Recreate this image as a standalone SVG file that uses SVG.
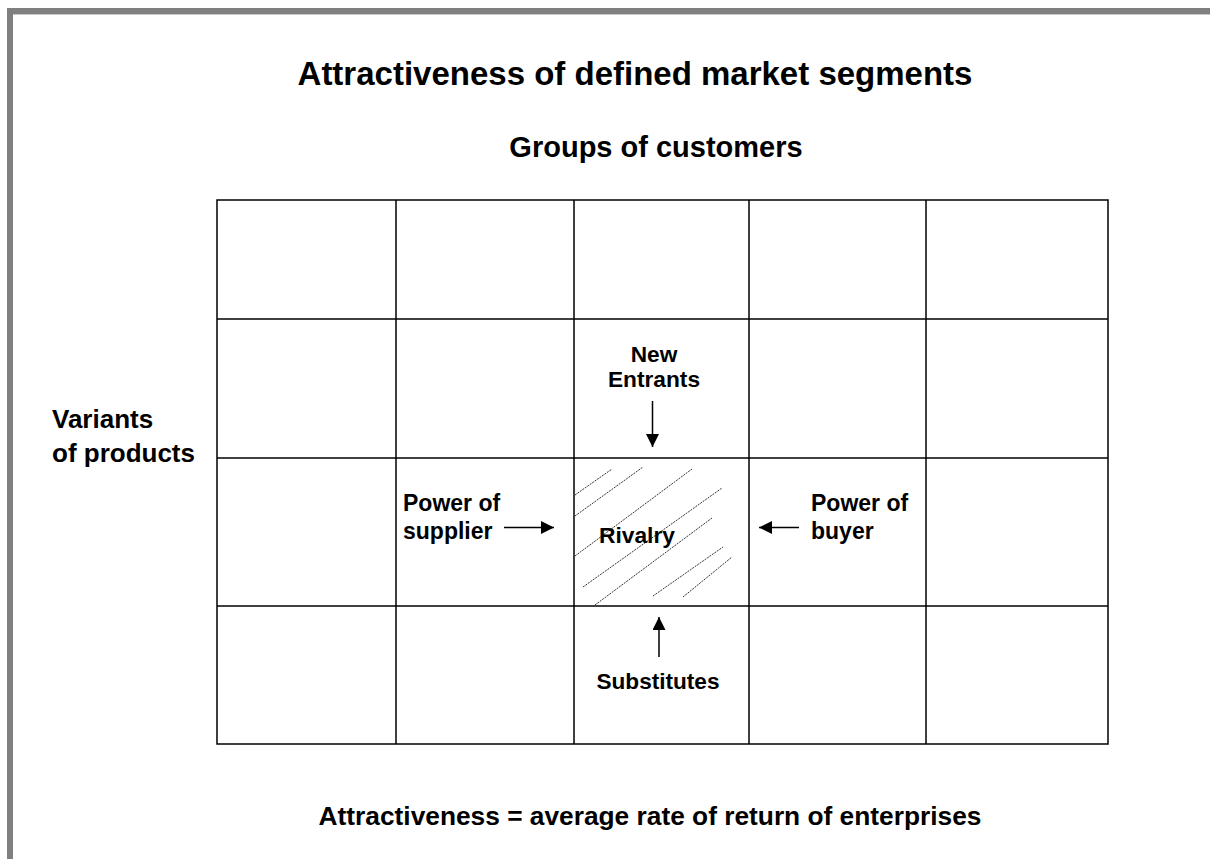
<svg xmlns="http://www.w3.org/2000/svg" width="1210" height="859" viewBox="0 0 1210 859">
<defs>
<style>
.t{font-family:"Liberation Sans",Arial,sans-serif;font-weight:bold;fill:#000}
.g{stroke:#000;stroke-width:1.5;fill:none}
.h{stroke:#333;stroke-width:1;stroke-dasharray:2,1;fill:none}
.a{stroke:#000;stroke-width:1.5;fill:none}
</style>
<marker id="ah" viewBox="0 0 10 10" refX="10" refY="5" markerWidth="13" markerHeight="13" markerUnits="userSpaceOnUse" orient="auto">
<path d="M0,0 L10,5 L0,10 z" fill="#000"/>
</marker>
</defs>
<rect x="0" y="0" width="1210" height="859" fill="#fff"/>
<g id="frame">
<rect x="7" y="8" width="1203" height="6" fill="#808080"/>
<rect x="13" y="14" width="1197" height="1" fill="#c8c8c8"/>
<rect x="7" y="8" width="6" height="851" fill="#808080"/>
</g>
<g id="titles">
<text class="t" x="635" y="85" font-size="33" text-anchor="middle">Attractiveness of defined market segments</text>
<text class="t" x="656" y="157" font-size="29" text-anchor="middle">Groups of customers</text>
<text class="t" x="52" y="428" font-size="26">Variants</text>
<text class="t" x="52" y="462" font-size="26">of products</text>
<text class="t" x="650" y="825" font-size="26.3" text-anchor="middle">Attractiveness = average rate of return of enterprises</text>
</g>
<g id="grid">
<rect class="g" x="217" y="200" width="891" height="544"/>
<line class="g" x1="396" y1="200" x2="396" y2="744"/>
<line class="g" x1="574" y1="200" x2="574" y2="744"/>
<line class="g" x1="749" y1="200" x2="749" y2="744"/>
<line class="g" x1="926" y1="200" x2="926" y2="744"/>
<line class="g" x1="217" y1="319" x2="1108" y2="319"/>
<line class="g" x1="217" y1="458" x2="1108" y2="458"/>
<line class="g" x1="217" y1="606" x2="1108" y2="606"/>
</g>
<g id="rivalry">
<g id="hatch">
<line class="h" x1="575" y1="495" x2="612" y2="469"/>
<line class="h" x1="575" y1="516" x2="643" y2="467"/>
<line class="h" x1="575" y1="556" x2="692" y2="469"/>
<line class="h" x1="583" y1="587" x2="722" y2="488"/>
<line class="h" x1="595" y1="605" x2="712" y2="518"/>
<line class="h" x1="653" y1="596" x2="723" y2="547"/>
<line class="h" x1="683" y1="597" x2="732" y2="557"/>
</g>
<text class="t" x="637" y="543" font-size="22.8" text-anchor="middle">Rivalry</text>
</g>
<g id="new-entrants">
<text class="t" x="654" y="362" font-size="22.7" text-anchor="middle">New</text>
<text class="t" x="654" y="387" font-size="22.7" text-anchor="middle">Entrants</text>
</g>
<g id="supplier">
<text class="t" x="403" y="511" font-size="23">Power of</text>
<text class="t" x="403" y="539" font-size="23">supplier</text>
</g>
<g id="buyer">
<text class="t" x="811" y="511" font-size="23">Power of</text>
<text class="t" x="811" y="539" font-size="23">buyer</text>
</g>
<g id="substitutes">
<text class="t" x="658" y="689" font-size="22.6" text-anchor="middle">Substitutes</text>
</g>
<g id="connectors">
<line class="a" x1="652.5" y1="401" x2="652.5" y2="447" marker-end="url(#ah)"/>
<line class="a" x1="504" y1="527.5" x2="554" y2="527.5" marker-end="url(#ah)"/>
<line class="a" x1="799" y1="527.5" x2="759" y2="527.5" marker-end="url(#ah)"/>
<line class="a" x1="659" y1="657" x2="659" y2="617" marker-end="url(#ah)"/>
</g>
</svg>
